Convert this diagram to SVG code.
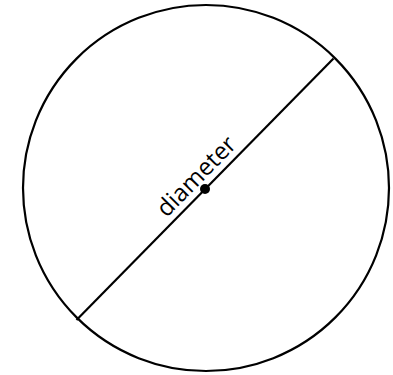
<svg xmlns="http://www.w3.org/2000/svg" width="393" height="375" viewBox="0 0 393 375">
<style>
.shape{fill:none;stroke:#000;stroke-width:2.2}
.lbl{font-family:"Open Sans","Liberation Sans",sans-serif;font-size:24px;fill:#000}
</style>
<rect width="393" height="375" fill="#fff"/>
<g id="circle"><circle class="shape" cx="206" cy="188" r="183"/></g>
<g id="connectors"><line class="shape" x1="76.5" y1="320" x2="333.5" y2="58.5"/></g>
<g id="center"><circle cx="205" cy="189" r="5" fill="#000"/></g>
<g id="label"><text class="lbl" transform="translate(205,189) rotate(-45.5)" x="3" y="-7" text-anchor="middle">diameter</text></g>
</svg>
